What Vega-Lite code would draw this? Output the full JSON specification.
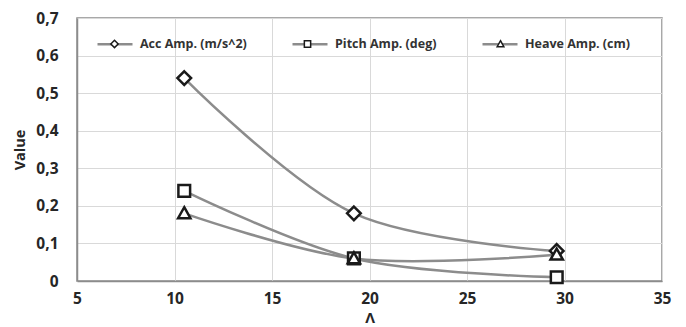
{
  "$schema": "https://vega.github.io/schema/vega-lite/v6.json",
  "width": 585,
  "height": 263,
  "autosize": {"type": "none"},
  "padding": {"left": 77, "top": 18, "right": 24, "bottom": 46},
  "background": "white",
  "config": {
    "view": {"stroke": "#8c8c8c", "strokeWidth": 1.5},
    "font": "Open Sans"
  },
  "data": {
    "values": [
      {"series": "Acc Amp. (m/s^2)", "lambda": 10.5, "value": 0.54},
      {"series": "Acc Amp. (m/s^2)", "lambda": 19.2, "value": 0.18},
      {"series": "Acc Amp. (m/s^2)", "lambda": 29.6, "value": 0.08},
      {"series": "Pitch Amp. (deg)", "lambda": 10.5, "value": 0.24},
      {"series": "Pitch Amp. (deg)", "lambda": 19.2, "value": 0.06},
      {"series": "Pitch Amp. (deg)", "lambda": 29.6, "value": 0.01},
      {"series": "Heave Amp. (cm)", "lambda": 10.5, "value": 0.18},
      {"series": "Heave Amp. (cm)", "lambda": 19.2, "value": 0.06},
      {"series": "Heave Amp. (cm)", "lambda": 29.6, "value": 0.07}
    ]
  },
  "encoding": {
    "x": {
      "field": "lambda",
      "type": "quantitative",
      "scale": {"domain": [5, 35], "nice": false, "zero": false},
      "axis": {
        "title": "Λ",
        "values": [5, 10, 15, 20, 25, 30, 35],
        "grid": true,
        "gridColor": "#d9d9d9",
        "gridWidth": 1,
        "domainColor": "#8c8c8c",
        "domainWidth": 1.5,
        "ticks": false,
        "labelFont": "Open Sans",
        "labelFontSize": 15.5,
        "labelFontWeight": "bold",
        "labelColor": "#262626",
        "labelPadding": 10,
        "labelFlush": false,
        "titleFont": "Open Sans",
        "titleFontSize": 15,
        "titleFontWeight": "bold",
        "titleColor": "#262626",
        "titlePadding": 4
      }
    },
    "y": {
      "field": "value",
      "type": "quantitative",
      "scale": {"domain": [0, 0.7], "nice": false},
      "axis": {
        "title": "Value",
        "values": [0, 0.1, 0.2, 0.3, 0.4, 0.5, 0.6, 0.7],
        "format": "~g",
        "labelExpr": "replace(datum.label, '.', ',')",
        "grid": true,
        "gridColor": "#d9d9d9",
        "gridWidth": 1,
        "domainColor": "#8c8c8c",
        "domainWidth": 1.5,
        "ticks": false,
        "labelFont": "Open Sans",
        "labelFontSize": 15.5,
        "labelFontWeight": "bold",
        "labelColor": "#262626",
        "labelPadding": 19,
        "labelFlush": false,
        "titleFont": "Open Sans",
        "titleFontSize": 14.5,
        "titleFontWeight": "bold",
        "titleColor": "#262626",
        "titlePadding": 8
      }
    }
  },
  "layer": [
    {
      "mark": {"type": "line", "interpolate": "catmull-rom", "strokeWidth": 2.5},
      "encoding": {
        "stroke": {
          "field": "series",
          "type": "nominal",
          "scale": {
            "domain": ["Acc Amp. (m/s^2)", "Pitch Amp. (deg)", "Heave Amp. (cm)"],
            "range": ["#8c8c8c", "#8c8c8c", "#8c8c8c"]
          },
          "legend": {
            "title": null,
            "orient": "none",
            "legendX": 19,
            "legendY": 7,
            "direction": "horizontal",
            "symbolType": "stroke",
            "symbolSize": 1225,
            "symbolStrokeWidth": 2.5,
            "labelFont": "Open Sans",
            "labelFontSize": 12.5,
            "labelFontWeight": "bold",
            "labelColor": "#333333",
            "labelOffset": 6,
            "columnPadding": 40,
            "padding": 0,
            "zindex": 1
          }
        }
      }
    },
    {
      "mark": {"type": "point", "filled": true, "fill": "white", "stroke": "#1a1a1a", "strokeWidth": 2.5, "size": 4225, "opacity": 1},
      "encoding": {
        "shape": {
          "field": "series",
          "type": "nominal",
          "sort": ["Acc Amp. (m/s^2)", "Pitch Amp. (deg)", "Heave Amp. (cm)"],
          "scale": {
            "range": [
              "M0,-0.21L0.21,0L0,0.21L-0.21,0Z",
              "M-0.18,-0.18H0.18V0.18H-0.18Z",
              "M0,-0.19L0.19,0.15L-0.19,0.15Z"
            ]
          },
          "legend": {
            "title": null,
            "orient": "none",
            "legendX": 19,
            "legendY": 7,
            "direction": "horizontal",
            "symbolSize": 1225,
            "labelExpr": "''",
            "labelFontSize": 12.5,
            "labelOffset": 6,
            "columnPadding": 150,
            "padding": 0,
            "zindex": 2,
            "encode": {
              "symbols": {
                "update": {
                  "fill": {"value": "white"},
                  "stroke": {"value": "#1a1a1a"},
                  "strokeWidth": {"value": 2.5},
                  "opacity": {"value": 1}
                }
              }
            }
          }
        }
      }
    }
  ]
}
